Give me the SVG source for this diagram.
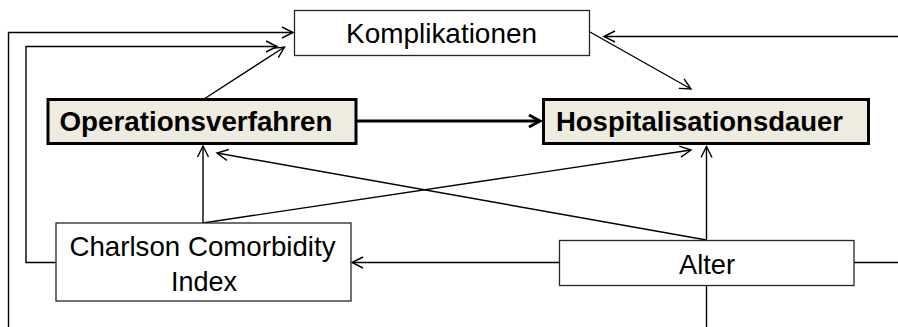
<svg xmlns="http://www.w3.org/2000/svg" width="898" height="327" viewBox="0 0 898 327">
<style>
.box{fill:#fff;stroke:#262626;stroke-width:1.3}
.bbox{fill:#EEECE1;stroke:#000;stroke-width:3}
.t{font-family:"Liberation Sans",Arial,sans-serif;font-size:28px;fill:#000}
.b{font-weight:bold;font-size:27.5px}
.c{fill:none;stroke:#000;stroke-width:1.4}
.cb{fill:none;stroke:#000;stroke-width:3}
</style>
<defs>
<marker id="ar" viewBox="-14 -8 16 16" markerWidth="16" markerHeight="16" refX="0" refY="0" orient="auto" markerUnits="userSpaceOnUse" overflow="visible">
<path d="M-11,-5.5 L0,0 L-11,5.5" fill="none" stroke="#000" stroke-width="1.4"/>
</marker>
<marker id="arb" viewBox="-14 -8 16 16" markerWidth="16" markerHeight="16" refX="0" refY="0" orient="auto" markerUnits="userSpaceOnUse" overflow="visible">
<path d="M-11,-6 L0,0 L-11,6" fill="none" stroke="#000" stroke-width="3"/>
</marker>
</defs>
<g id="connectors">
<path class="c" d="M8.5,327 V32.5 H293" marker-end="url(#ar)"/>
<path class="c" d="M56,262.5 H26 V46.5 H277" marker-end="url(#ar)"/>
<path class="c" d="M204,99 L284.5,47" marker-end="url(#ar)"/>
<path class="c" d="M898,36.5 H604" marker-end="url(#ar)"/>
<path class="c" d="M590,32 L691,89" marker-end="url(#ar)"/>
<path class="cb" d="M357,121 H540" marker-end="url(#arb)"/>
<path class="c" d="M203,223 V146" marker-end="url(#ar)"/>
<path class="c" d="M203,223 L691,150" marker-end="url(#ar)"/>
<path class="c" d="M706.5,240 L217,153" marker-end="url(#ar)"/>
<path class="c" d="M706.5,240 V146.5" marker-end="url(#ar)"/>
<path class="c" d="M559,262.5 H352" marker-end="url(#ar)"/>
<path class="c" d="M854,262.5 H898"/>
<path class="c" d="M706.5,286 V327"/>
</g>
<g id="komplikationen">
<rect class="box" x="294.5" y="10.5" width="295" height="45"/>
<text class="t" x="346" y="42.5" textLength="191" lengthAdjust="spacingAndGlyphs">Komplikationen</text>
</g>
<g id="operationsverfahren">
<rect class="bbox" x="48" y="99.5" width="308" height="44"/>
<text class="t b" x="59.5" y="131" textLength="273" lengthAdjust="spacingAndGlyphs">Operationsverfahren</text>
</g>
<g id="hospitalisationsdauer">
<rect class="bbox" x="543.5" y="99.5" width="325" height="44"/>
<text class="t b" x="556" y="131" textLength="287" lengthAdjust="spacingAndGlyphs">Hospitalisationsdauer</text>
</g>
<g id="charlson">
<rect class="box" x="56" y="223" width="295" height="78"/>
<text class="t" x="69.5" y="255.5" textLength="266" lengthAdjust="spacingAndGlyphs">Charlson Comorbidity</text>
<text class="t" x="171" y="290.5" textLength="66" lengthAdjust="spacingAndGlyphs">Index</text>
</g>
<g id="alter">
<rect class="box" x="559.5" y="240.5" width="294.5" height="45"/>
<text class="t" x="679" y="274" textLength="56" lengthAdjust="spacingAndGlyphs">Alter</text>
</g>
</svg>
